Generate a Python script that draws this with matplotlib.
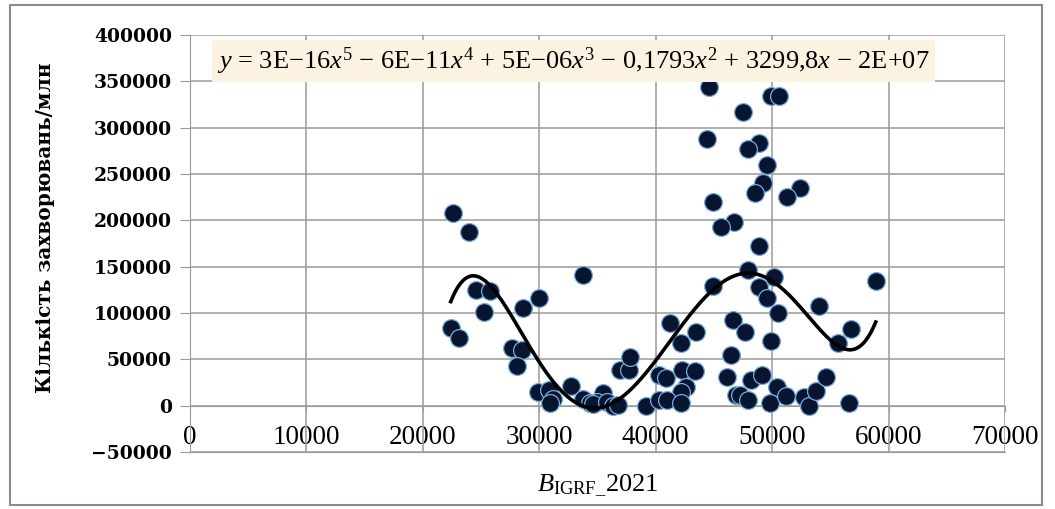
import numpy as np
import matplotlib
matplotlib.use('Agg')
import matplotlib.pyplot as plt
from matplotlib.patches import Rectangle

# ---------------- data ----------------
b_igrf = [22600, 24000, 22400, 23100, 24600, 25800, 25300, 27700, 28500, 28100,
          28600, 30000, 33800, 29900, 30800, 31200, 30900, 32700, 33800, 34400,
          35500, 35000, 34600, 35800, 36300, 36800, 39200, 36900, 37700, 37800,
          40300, 40900, 41200, 42200, 43500, 42300, 43400, 42600, 42200, 40300,
          41000, 42200, 44900, 44600, 49900, 50600, 47500, 44400, 48900, 47900,
          49600, 49200, 48500, 44900, 52400, 51300, 46700, 45600, 48900, 47900,
          50200, 48900, 49600, 50500, 54000, 46600, 47700, 49900, 46500, 46100,
          46900, 48200, 49100, 50400, 47200, 47900, 49800, 51200, 52700, 53200,
          53800, 54600, 58900, 56800, 55700, 56600]
cases = [208000, 187000, 84000, 73000, 125000, 124000, 101000, 62000, 60000, 43000,
         105000, 116000, 141000, 15000, 17000, 7500, 3000, 21500, 7500, 3000,
         14000, 4000, 2000, 4000, 0, 1000, 0, 39000, 39000, 52000,
         33000, 30000, 89000, 68000, 80000, 39000, 37000, 20000, 15000, 6500,
         6500, 3000, 129000, 344000, 334000, 334000, 317000, 288000, 283000, 277000,
         260000, 240000, 230000, 220000, 235000, 225000, 198000, 193000, 172000, 146000,
         139000, 128000, 116000, 100000, 108000, 92000, 79000, 70000, 55000, 31000,
         11000, 28000, 33000, 20500, 12000, 6500, 3000, 10000, 9000, 0,
         16000, 31000, 135000, 83000, 68000, 3000]

x_ticks = [0, 10000, 20000, 30000, 40000, 50000, 60000, 70000]
y_ticks = [-50000, 0, 50000, 100000, 150000, 200000, 250000, 300000, 350000, 400000]

equation = (r"$y$ = 3E$-$16$x^5$ $-$ 6E$-$11$x^4$ + 5E$-$06$x^3$ $-$ 0,1793$x^2$"
            r" + 3299,8$x$ $-$ 2E+07")

# ---------------- style ----------------
plt.rcParams['mathtext.fontset'] = 'custom'
plt.rcParams['mathtext.rm'] = 'Liberation Serif'
plt.rcParams['mathtext.it'] = 'Liberation Serif:italic'
plt.rcParams['mathtext.bf'] = 'Liberation Serif:bold'

GRID = '#9a9a9a'
Y_MIN, Y_MAX = -50000, 400000

fig = plt.figure(figsize=(10.55, 5.09), dpi=100)
ax = fig.add_axes([0.180, 0.112, 0.7726, 0.8192])

# outer chart border
fig.patches.append(Rectangle((10 / 1055, 4 / 509), 1032 / 1055, 500 / 509,
                             transform=fig.transFigure, fill=False,
                             edgecolor='#8c8c8c', linewidth=1.5))

ax.set_xlim(0, 70000)
ax.set_ylim(Y_MIN, Y_MAX)
ax.set_xticks(x_ticks)
ax.set_yticks(y_ticks)

ax.grid(True, color=GRID, linewidth=1.1)
ax.set_axisbelow(True)
for side in ['top', 'right']:
    ax.spines[side].set_visible(False)
ax.spines['bottom'].set_color(GRID)
ax.spines['left'].set_color(GRID)
ax.tick_params(axis='x', length=0, labelbottom=False)
ax.tick_params(axis='y', color=GRID, length=7, pad=6)
ax.set_yticklabels([str(v).replace('-', '\u2212') for v in y_ticks],
                   family='DejaVu Serif', fontweight='bold', fontsize=13.5)

# x axis crosses at y = 0 (Excel style)
sec = ax.secondary_xaxis((0 - Y_MIN) / (Y_MAX - Y_MIN))
sec.spines['bottom'].set_color(GRID)
sec.tick_params(axis='x', color=GRID, length=4, pad=10)
sec.set_xticks(x_ticks)
sec.set_xticklabels([str(v) for v in x_ticks], family='Liberation Serif', fontsize=19.5)

# scatter
ax.scatter(b_igrf, cases, s=165, color='#071530', edgecolor='#78acdc',
           linewidth=0.9, zorder=3)

# polynomial trend line (order 5)
xs = np.array(b_igrf, dtype=float)
ys = np.array(cases, dtype=float)
xm, xsd = xs.mean(), xs.std()
coef = np.polyfit((xs - xm) / xsd, ys, 5)
xx = np.linspace(xs.min(), xs.max(), 300)
ax.plot(xx, np.polyval(coef, (xx - xm) / xsd), color='black', linewidth=2.6, zorder=4)

# equation label
ax.text(0.471, 0.938, equation, transform=ax.transAxes, ha='center', va='center',
        family='Liberation Serif', fontsize=19, zorder=5,
        bbox=dict(boxstyle='square,pad=0.2', facecolor='#fcf2e1', edgecolor='none'))

ax.set_ylabel('Кількість захворювань/млн', family='DejaVu Serif', fontweight='bold',
              fontsize=14.5)
ax.yaxis.set_label_coords(-0.166, 0.537)
ax.set_xlabel(r'$B_{\mathrm{IGRF\_}}$2021', family='Liberation Serif', fontsize=19)
ax.xaxis.set_label_coords(0.5, -0.05)

fig.savefig('out.png', dpi=100)
